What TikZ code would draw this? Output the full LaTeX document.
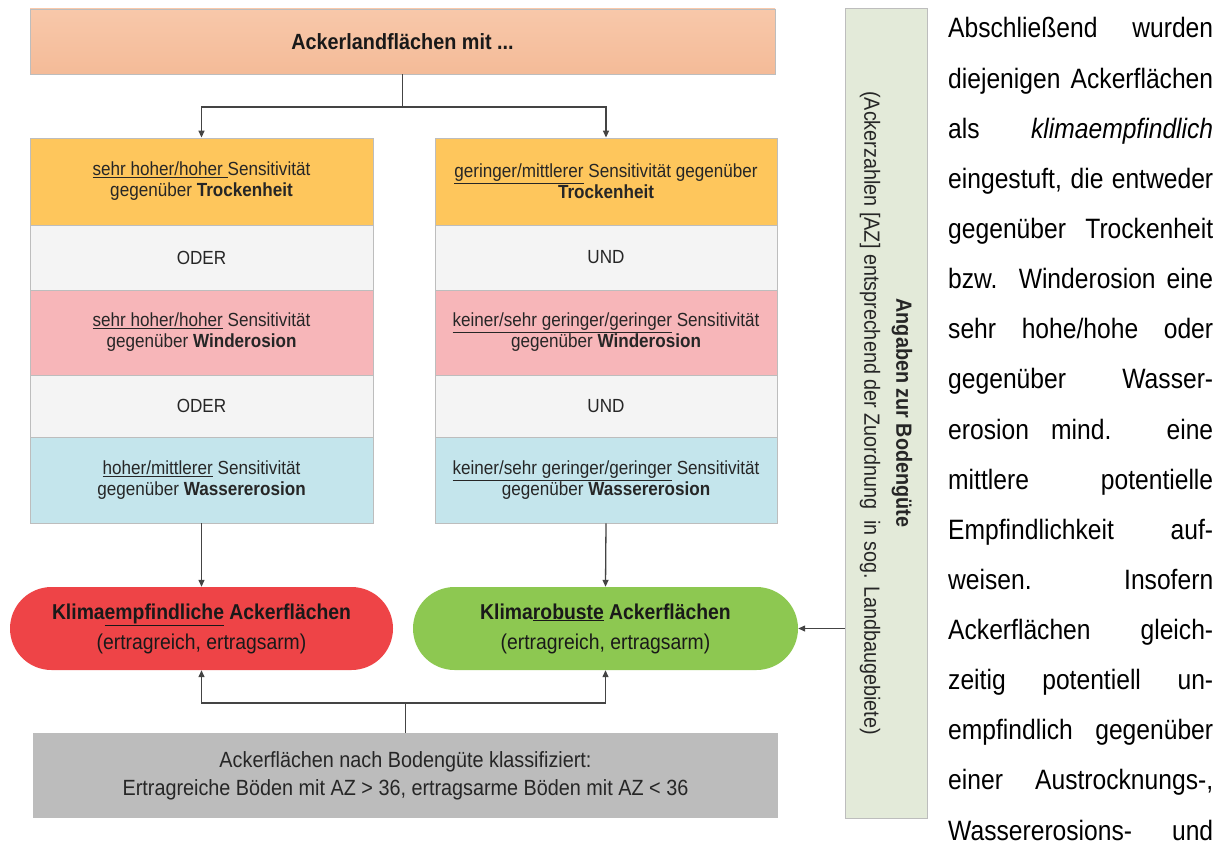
\documentclass[tikz,border=0pt]{standalone}
\usepackage{fontspec}
\setmainfont{Liberation Sans}
\newfontfamily\dfont[FakeStretch=0.9]{Liberation Sans}
\newfontfamily\pfont[FakeStretch=0.88]{Liberation Sans}
\usetikzlibrary{arrows.meta}
\definecolor{topfill}{HTML}{F8C8AA}
\definecolor{topfillb}{HTML}{F4BB98}
\definecolor{orangec}{HTML}{FEC65C}
\definecolor{whitec}{HTML}{F4F4F4}
\definecolor{pinkc}{HTML}{F7B6B9}
\definecolor{bluec}{HTML}{C4E5EC}
\definecolor{redc}{HTML}{EE4447}
\definecolor{greenc}{HTML}{8DC851}
\definecolor{grayc}{HTML}{BCBCBC}
\definecolor{vboxc}{HTML}{E3EAD9}
\definecolor{linec}{HTML}{444444}
\definecolor{cellline}{HTML}{BDBDBD}
\definecolor{txt}{HTML}{262626}
\tikzset{
  cell/.style={draw=cellline, line width=0.8pt, inner sep=0pt, align=center,
    text=txt, font=\dfont\fontsize{19}{21}\selectfont},
  lcell/.style={cell, minimum width=343pt},
  rcell/.style={cell, minimum width=342pt},
  pill/.style={minimum height=83pt, rounded corners=41.5pt, inner sep=0pt,
    align=center, text=black!90, font=\dfont\fontsize{21.5}{30}\selectfont},
  arr/.style={draw=linec, line width=1.3pt, -{Triangle[length=7pt,width=6pt]}},
  ln/.style={draw=linec, line width=1.3pt},
  ptext/.style={anchor=base west, inner sep=0pt, font=\pfont\fontsize{28}{32}\selectfont, text=black}
}
\begin{document}
\begin{tikzpicture}[x=1pt,y=-1pt]
\useasboundingbox (0,0) rectangle (1219,848);

% top box
\node[draw=cellline, line width=0.8pt, top color=topfill, bottom color=topfillb,
  minimum width=745pt, minimum height=65pt, inner sep=0pt,
  font=\dfont\fontsize{22}{26}\selectfont\bfseries, text=black!90]
  (top) at (402.5,41.5) {Ackerlandflächen mit ...};

% left column
\node[lcell, fill=orangec, minimum height=87pt] (L1) at (201.5,181.5)
  {\underline{sehr hoher/hoher\ }Sensitivität\\gegenüber \textbf{Trockenheit}};
\node[lcell, fill=whitec, minimum height=65pt] (L2) at (201.5,257.5) {ODER};
\node[lcell, fill=pinkc, minimum height=85pt] (L3) at (201.5,332.5)
  {\underline{sehr hoher/hoher} Sensitivität\\gegenüber \textbf{Winderosion}};
\node[lcell, fill=whitec, minimum height=62pt] (L4) at (201.5,406) {ODER};
\node[lcell, fill=bluec, minimum height=86pt] (L5) at (201.5,480)
  {\underline{hoher/mittlerer} Sensitivität\\gegenüber \textbf{Wassererosion}};

% right column
\node[rcell, fill=orangec, minimum height=87pt] (R1) at (606,181.5)
  {\underline{geringer/mittlerer} Sensitivität gegenüber\\\textbf{Trockenheit}};
\node[rcell, fill=whitec, minimum height=65pt] (R2) at (606,257.5) {UND};
\node[rcell, fill=pinkc, minimum height=85pt] (R3) at (606,332.5)
  {\underline{keiner/sehr geringer/geringer} Sensitivität\\gegenüber \textbf{Winderosion}};
\node[rcell, fill=whitec, minimum height=62pt] (R4) at (606,406) {UND};
\node[rcell, fill=bluec, minimum height=86pt] (R5) at (606,480)
  {\underline{keiner/sehr geringer/geringer} Sensitivität\\gegenüber \textbf{Wassererosion}};

% pills
\node[pill, fill=redc, minimum width=383pt] (red) at (201.5,628.5)
  {\textbf{Klima\underline{empfindliche} Ackerflächen}\\(ertragreich, ertragsarm)};
\node[pill, fill=greenc, minimum width=385pt] (green) at (605.5,628.5)
  {\textbf{Klima\underline{robuste} Ackerflächen}\\(ertragreich, ertragsarm)};

% gray box
\node[fill=grayc, minimum width=745pt, minimum height=85pt, inner sep=0pt,
  align=center, text=txt, font=\dfont\fontsize{22}{28}\selectfont]
  (gray) at (405.5,775.5)
  {Ackerflächen nach Bodengüte klassifiziert:\\Ertragreiche Böden mit AZ > 36, ertragsarme Böden mit AZ < 36};

% vertical box
\node[draw=cellline, line width=0.8pt, fill=vboxc, minimum width=82pt, minimum height=810pt,
  inner sep=0pt] (vbox) at (886,413) {};
\node[rotate=-90, align=center, inner sep=0pt, text=txt,
  font=\dfont\fontsize{22}{32}\selectfont] (vtext) at (vbox.center)
  {\textbf{Angaben zur Bodengüte}\\(Ackerzahlen [AZ] entsprechend der Zuordnung\ \ in sog. Landbaugebiete)};

% connectors top
\coordinate (split) at (top.south |- 0,107);
\draw[ln] (top.south) -- (split);
\draw[arr] (split) -| (L1.north);
\draw[arr] (split) -| (R1.north);
\draw[arr] (L5.south) -- (red.north);
\draw[arr] (R5.south) -- (green.north);

% connectors bottom
\coordinate (join) at (gray.north |- 0,703);
\draw[ln] (gray.north) -- (join);
\draw[arr] (join) -| (red.south);
\draw[arr] (join) -| (green.south);
\draw[arr] (vbox.west |- green.east) -- (green.east);

% paragraph text
\foreach \t [count=\i] in {
  {Abschließend wurden},
  {diejenigen Ackerflächen},
  {als \textit{klimaempfindlich}},
  {eingestuft, die entweder},
  {gegenüber Trockenheit},
  {bzw. Winderosion eine},
  {sehr hohe/hohe oder},
  {gegenüber Wasser-},
  {erosion mind. eine},
  {mittlere potentielle},
  {Empfindlichkeit auf-},
  {weisen. Insofern},
  {Ackerflächen gleich-},
  {zeitig potentiell un-},
  {empfindlich gegenüber},
  {einer Austrocknungs-,},
  {Wassererosions- und}} {
  \node[ptext] (p\i) at (948,{38+50.13*(\i-1)}) {\makebox[265pt][s]{\t}};
}
\end{tikzpicture}
\end{document}
